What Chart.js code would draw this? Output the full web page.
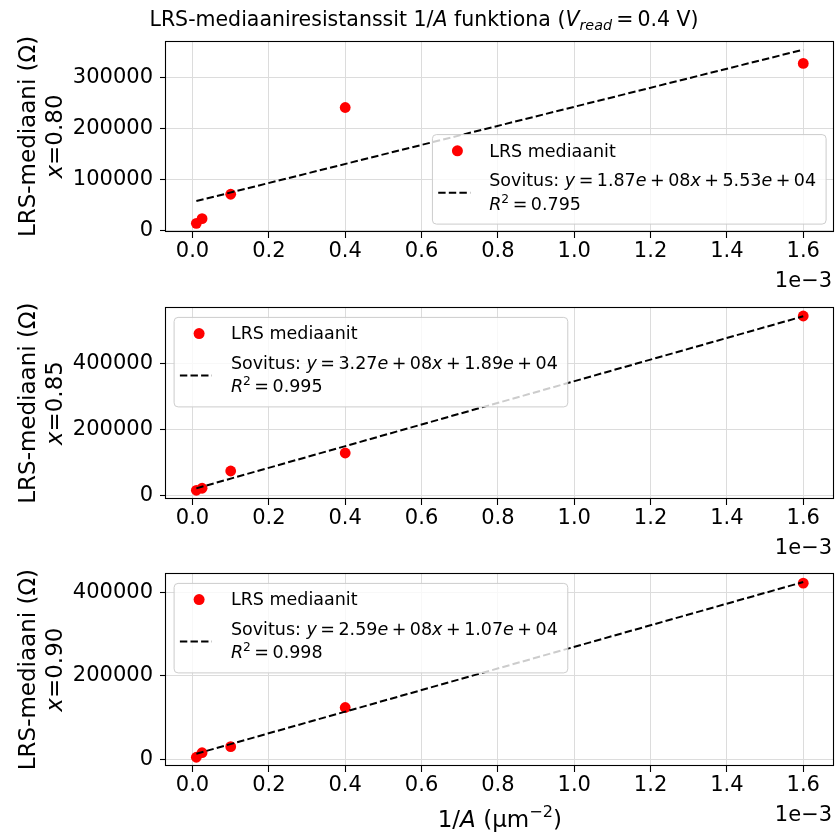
<!DOCTYPE html>
<html><head><meta charset="utf-8">
<script src="https://cdn.jsdelivr.net/npm/chart.js@4.4.0/dist/chart.umd.min.js"></script>
<style>
html,body{margin:0;padding:0;background:#fff;}
#wrap{position:relative;width:835px;height:832px;overflow:hidden;}
canvas{position:absolute;left:0;}
</style></head><body>
<div id="wrap">
<canvas id="c1" width="839" height="290" style="top:0px"></canvas>
<canvas id="c2" width="839" height="266" style="top:290px"></canvas>
<canvas id="c3" width="839" height="276" style="top:556px"></canvas>
</div>
<script>
// ---- data (x in units of 1e-3 µm^-2) ----
const invArea = [0.01, 0.025, 0.1, 0.4, 1.6];
const lrsX080 = [13500, 22700, 70600, 241000, 327500];
const lrsX085 = [16300, 22400, 74600, 129000, 543000];
const lrsX090 = [5000, 15900, 30400, 124300, 422400];
const compositions = ['0.80', '0.85', '0.90'];
const fitSlope = [1.87e8, 3.27e8, 2.59e8];      // Ω·µm²
const fitIntercept = [5.53e4, 1.89e4, 1.07e4];  // Ω
const fitR2 = ['0.795', '0.995', '0.998'];
const xTicks = [0, 0.2, 0.4, 0.6, 0.8, 1.0, 1.2, 1.4, 1.6];
const xTickLabels = ['0.0', '0.2', '0.4', '0.6', '0.8', '1.0', '1.2', '1.4', '1.6'];
const yTicks1 = [0, 100000, 200000, 300000];
const yTicks2 = [0, 200000, 400000];
const yTicks3 = [0, 200000, 400000];
const xOffsetLabel = '1e\u22123';
const scatterLabel = 'LRS mediaanit';
const yLabelText = 'LRS-mediaani (\u03A9)';

const FAM = "'DejaVu Sans', sans-serif";
const TS = '\u2009';
function fnt(size, italic) { return (italic ? 'italic ' : '') + size + 'px ' + FAM; }
function drawRuns(ctx, runs, x, y, size, align) {
  const widths = runs.map(r => { ctx.font = fnt(size * (r.s || 1), r.i); return ctx.measureText(r.t).width; });
  const total = widths.reduce((a, b) => a + b, 0);
  let cx = align === 'center' ? x - total / 2 : (align === 'right' ? x - total : x);
  ctx.textAlign = 'left'; ctx.textBaseline = 'alphabetic';
  runs.forEach((r, k) => {
    ctx.font = fnt(size * (r.s || 1), r.i);
    ctx.fillText(r.t, cx, y + (r.dy || 0) * size);
    cx += widths[k];
  });
  return total;
}
function runsWidth(ctx, runs, size) {
  return runs.reduce((a, r) => { ctx.font = fnt(size * (r.s || 1), r.i); return a + ctx.measureText(r.t).width; }, 0);
}
function sci(v) {
  const [m, e] = v.toExponential(2).split('e');
  const sign = e[0] === '-' ? '\u2212' : '+';
  const ex = String(Math.abs(parseInt(e, 10))).padStart(2, '0');
  return { m, sign, ex };
}
function roundRectPath(ctx, x, y, w, h, r) {
  ctx.beginPath();
  ctx.moveTo(x + r, y); ctx.lineTo(x + w - r, y); ctx.arcTo(x + w, y, x + w, y + r, r);
  ctx.lineTo(x + w, y + h - r); ctx.arcTo(x + w, y + h, x + w - r, y + h, r);
  ctx.lineTo(x + r, y + h); ctx.arcTo(x, y + h, x, y + h - r, r);
  ctx.lineTo(x, y + r); ctx.arcTo(x, y, x + r, y, r); ctx.closePath();
}

const panels = [
  { id: 'c1', ys: lrsX080, yTicks: yTicks1, comp: compositions[0], k: 0, legend: 'lr', top: 41, axisH: 58, title: true, xlabel: false },
  { id: 'c2', ys: lrsX085, yTicks: yTicks2, comp: compositions[1], k: 1, legend: 'ul', top: 17.3, axisH: 57, title: false, xlabel: false },
  { id: 'c3', ys: lrsX090, yTicks: yTicks3, comp: compositions[2], k: 2, legend: 'ul', top: 17.3, axisH: 66, title: false, xlabel: true },
];

panels.forEach(p => {
  const slopePerUnit = fitSlope[p.k] * 1e-3;
  const x0 = Math.min(...invArea), x1 = Math.max(...invArea);
  const fitPts = [x0, x1].map(x => ({ x, y: slopePerUnit * x + fitIntercept[p.k] }));
  const pts = invArea.map((x, i) => ({ x, y: p.ys[i] }));
  const allY = p.ys.concat(fitPts.map(q => q.y));
  const yMin = Math.min(...allY), yMax = Math.max(...allY);
  const yPad = (yMax - yMin) * 0.05, xPad = (x1 - x0) * 0.05;

  const panelPlugin = {
    id: 'panel' + p.k,
    afterDatasetsDraw(chart) {
      const ctx = chart.ctx, a = chart.chartArea;
      ctx.save();
      // axes frame
      ctx.strokeStyle = '#000'; ctx.lineWidth = 1.1; ctx.setLineDash([]);
      ctx.strokeRect(Math.round(a.left) - 0.5, Math.round(a.top) + 0.5, Math.round(a.right - a.left), Math.round(a.bottom - a.top) - 1);
      // legend
      const LS = 17.5;
      const s = sci(fitSlope[p.k]), b = sci(fitIntercept[p.k]);
      const line1 = [{ t: scatterLabel }];
      const line2 = [{ t: 'Sovitus: ' }, { t: 'y', i: 1 }, { t: TS + '=' + TS + s.m }, { t: 'e', i: 1 }, { t: TS + s.sign + TS + s.ex }, { t: 'x', i: 1 },
        { t: TS + '+' + TS + b.m }, { t: 'e', i: 1 }, { t: TS + b.sign + TS + b.ex }];
      const line3 = [{ t: 'R', i: 1 }, { t: '2', s: 0.7, dy: -0.4 }, { t: TS + '=' + TS + fitR2[p.k] }];
      const tw = Math.max(runsWidth(ctx, line1, LS), runsWidth(ctx, line2, LS), runsWidth(ctx, line3, LS));
      const bw = 57.3 + tw + 9.5, bh = 89.5;
      let bx, by;
      if (p.legend === 'lr') { bx = a.right - 8 - bw; by = a.bottom - 8.4 - bh; }
      else { bx = a.left + 7.6; by = a.top + 9.6; }
      roundRectPath(ctx, bx + 0.5, by + 0.5, bw, bh, 4);
      ctx.fillStyle = 'rgba(255,255,255,0.8)'; ctx.fill();
      ctx.strokeStyle = '#cccccc'; ctx.lineWidth = 1; ctx.stroke();
      ctx.fillStyle = '#ff0000';
      ctx.beginPath(); ctx.arc(bx + 25.5, by + 16.7, 5.5, 0, Math.PI * 2); ctx.fill();
      ctx.strokeStyle = '#000'; ctx.lineWidth = 2; ctx.setLineDash([7.4, 3.2]);
      ctx.beginPath(); ctx.moveTo(bx + 6.3, by + 58.7); ctx.lineTo(bx + 38.3, by + 58.7); ctx.stroke();
      ctx.setLineDash([]);
      ctx.fillStyle = '#000';
      drawRuns(ctx, line1, bx + 57.3, by + 22.4, LS, 'left');
      drawRuns(ctx, line2, bx + 57.3, by + 51.7, LS, 'left');
      drawRuns(ctx, line3, bx + 57.3, by + 75.4, LS, 'left');
      // y label (rotated)
      const cy = (a.top + a.bottom) / 2;
      ctx.save(); ctx.translate(35, cy); ctx.rotate(-Math.PI / 2);
      drawRuns(ctx, [{ t: yLabelText }], 0, 0, 23, 'center'); ctx.restore();
      ctx.save(); ctx.translate(61.5, cy); ctx.rotate(-Math.PI / 2);
      drawRuns(ctx, [{ t: 'x', i: 1 }, { t: '=' + p.comp }], 0, 0, 23, 'center'); ctx.restore();
      // offset text
      drawRuns(ctx, [{ t: xOffsetLabel }], a.right - 1.5, a.bottom + 54.5, 21, 'right');
      if (p.title) {
        drawRuns(ctx, [{ t: 'LRS-mediaaniresistanssit 1/' }, { t: 'A', i: 1 }, { t: ' funktiona (' }, { t: 'V', i: 1 },
          { t: 'read', i: 1, s: 0.7, dy: 0.22 }, { t: TS + '=' + TS + '0.4 V)' }], 424, 25.5, 20.5, 'center');
      }
      if (p.xlabel) {
        drawRuns(ctx, [{ t: '1/' }, { t: 'A', i: 1 }, { t: ' (\u00B5m' }, { t: '\u22122', s: 0.7, dy: -0.42 }, { t: ')' }],
          (a.left + a.right) / 2, a.bottom + 60.5, 23, 'center');
      }
      ctx.restore();
    }
  };

  new Chart(document.getElementById(p.id), {
    type: 'scatter',
    data: {
      datasets: [
        { type: 'line', label: 'Sovitus', data: fitPts, borderColor: '#000', borderWidth: 2, borderDash: [7.4, 3.2],
          pointRadius: 0, fill: false, tension: 0, order: 0 },
        { type: 'scatter', label: scatterLabel, data: pts, backgroundColor: '#ff0000', borderWidth: 0,
          pointRadius: 5.4, pointHoverRadius: 5.4, order: 1 }
      ]
    },
    options: {
      responsive: false, animation: false, events: [],
      layout: { padding: { left: 0, right: 1, top: p.top, bottom: 0 } },
      plugins: { legend: { display: false }, tooltip: { enabled: false } },
      scales: {
        x: {
          type: 'linear', min: x0 - xPad, max: x1 + xPad,
          afterFit(sc) { sc.height = p.axisH; sc.paddingLeft = 0; sc.paddingRight = 0; },
          afterBuildTicks(sc) { sc.ticks = xTicks.map(v => ({ value: v })); },
          ticks: { callback: (v, i) => xTickLabels[i], font: { family: FAM, size: 21 }, color: '#000', padding: 1, maxRotation: 0, autoSkip: false },
          grid: { color: '#dcdcdc', lineWidth: 1, tickLength: 6, tickColor: '#000', tickWidth: 1.1, drawTicks: true },
          border: { display: false }
        },
        y: {
          type: 'linear', min: yMin - yPad, max: yMax + yPad,
          afterFit(sc) { sc.width = 166; sc.paddingTop = 0; sc.paddingBottom = 0; },
          afterBuildTicks(sc) { sc.ticks = p.yTicks.map(v => ({ value: v })); },
          ticks: { callback: v => String(v), font: { family: FAM, size: 21 }, color: '#000', padding: 7, autoSkip: false },
          grid: { color: '#dcdcdc', lineWidth: 1, tickLength: 6, tickColor: '#000', tickWidth: 1.1, drawTicks: true },
          border: { display: false }
        }
      }
    },
    plugins: [panelPlugin]
  });
});
</script>
</body></html>
